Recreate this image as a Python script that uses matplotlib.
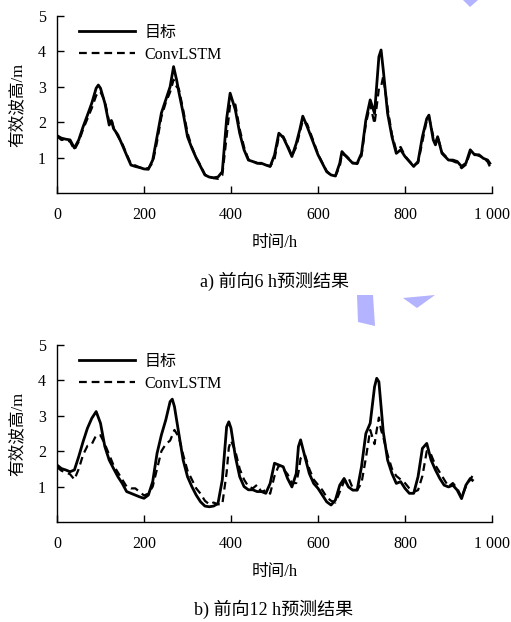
import matplotlib
matplotlib.use("Agg")
import matplotlib.pyplot as plt
from matplotlib.patches import Polygon

plt.rcParams['font.family'] = ['Liberation Serif', 'Noto Sans CJK SC']
plt.rcParams['axes.unicode_minus'] = False

# ---------------- data ----------------
t_a = [0, 10, 20, 30, 40, 50, 60, 70, 80, 90, 95, 100, 110, 120, 125, 130, 140, 150, 160, 170,
       180, 190, 200, 210, 220, 230, 240, 250, 260, 268, 275, 280, 290, 300, 310, 320, 330, 340,
       350, 360, 370, 380, 390, 398, 410, 420, 430, 440, 450, 460, 470, 480, 490, 500, 510, 520,
       530, 540, 550, 558, 565, 575, 590, 600, 610, 620, 630, 640, 650, 655, 665, 680, 690, 700,
       710, 720, 730, 740, 745, 750, 760, 770, 780, 790, 800, 810, 820, 830, 840, 850, 855, 865,
       870, 875, 885, 900, 910, 920, 930, 940, 950, 960, 970, 980, 990, 995]
target_a = [1.62, 1.55, 1.52, 1.50, 1.27, 1.50, 1.87, 2.20, 2.54, 2.96, 3.05, 2.96, 2.54, 1.92, 2.05,
            1.82, 1.64, 1.36, 1.07, 0.79, 0.75, 0.72, 0.68, 0.67, 0.93, 1.59, 2.26, 2.63, 3.00, 3.57,
            3.19, 2.86, 2.26, 1.59, 1.27, 0.99, 0.75, 0.51, 0.45, 0.43, 0.45, 0.60, 2.10, 2.82, 2.35,
            1.69, 1.22, 0.93, 0.89, 0.84, 0.84, 0.79, 0.75, 1.07, 1.69, 1.57, 1.31, 1.03, 1.40, 1.78,
            2.17, 1.88, 1.40, 1.08, 0.84, 0.60, 0.51, 0.48, 0.84, 1.17, 1.03, 0.84, 0.84, 1.12, 2.06,
            2.63, 2.25, 3.85, 4.04, 3.48, 2.25, 1.59, 1.12, 1.22, 1.03, 0.89, 0.75, 0.89, 1.59, 2.10,
            2.20, 1.50, 1.36, 1.59, 1.12, 0.93, 0.93, 0.89, 0.75, 0.84, 1.22, 1.08, 1.08, 0.98, 0.93,
            0.84]
conv_a = [1.60, 1.50, 1.50, 1.45, 1.22, 1.45, 1.80, 2.10, 2.40, 2.75, 2.85, 2.85, 2.60, 2.00, 2.10,
          1.85, 1.60, 1.40, 1.10, 0.82, 0.78, 0.72, 0.70, 0.70, 0.85, 1.45, 2.15, 2.55, 2.85, 3.20,
          3.00, 2.95, 2.35, 1.70, 1.30, 1.00, 0.78, 0.52, 0.45, 0.42, 0.40, 0.50, 1.60, 2.50, 2.50,
          1.80, 1.30, 0.95, 0.90, 0.85, 0.82, 0.80, 0.75, 0.95, 1.60, 1.60, 1.35, 1.05, 1.30, 1.70,
          2.05, 1.95, 1.45, 1.10, 0.85, 0.62, 0.50, 0.48, 0.75, 1.10, 1.05, 0.86, 0.82, 1.05, 1.95,
          2.50, 1.95, 2.95, 3.00, 3.30, 2.40, 1.65, 1.20, 1.30, 1.05, 0.90, 0.78, 0.85, 1.45, 2.05,
          2.15, 1.60, 1.40, 1.60, 1.15, 0.95, 0.90, 0.85, 0.70, 0.80, 1.15, 1.10, 1.05, 1.00, 0.88,
          0.75]

t_b = [0, 10, 20, 30, 40, 50, 60, 70, 80, 90, 100, 110, 120, 130, 140, 150, 160, 170, 180, 190,
       200, 210, 220, 230, 240, 250, 260, 265, 270, 280, 290, 300, 310, 320, 330, 340, 350, 360,
       370, 380, 390, 395, 400, 410, 420, 430, 440, 450, 460, 470, 480, 490, 500, 510, 520, 530,
       540, 550, 555, 560, 570, 580, 590, 600, 610, 620, 630, 640, 650, 660, 670, 680, 690, 700,
       710, 720, 730, 735, 740, 745, 750, 760, 770, 780, 790, 800, 810, 820, 830, 840, 850, 860,
       870, 880, 890, 900, 910, 920, 930, 940, 950, 955]
target_b = [1.61, 1.51, 1.47, 1.42, 1.47, 1.85, 2.27, 2.65, 2.93, 3.12, 2.79, 2.13, 1.75, 1.51, 1.28,
            1.09, 0.86, 0.81, 0.76, 0.71, 0.67, 0.76, 1.14, 1.94, 2.46, 2.88, 3.40, 3.47, 3.26, 2.50,
            1.75, 1.28, 1.00, 0.76, 0.57, 0.45, 0.43, 0.45, 0.52, 1.19, 2.69, 2.83, 2.65, 1.85, 1.28,
            1.00, 0.91, 0.91, 0.86, 0.86, 0.81, 1.09, 1.66, 1.61, 1.56, 1.23, 0.99, 1.37, 2.13, 2.32,
            1.84, 1.37, 1.09, 0.95, 0.76, 0.57, 0.48, 0.62, 1.04, 1.23, 0.99, 0.90, 0.90, 1.56, 2.50,
            2.79, 3.82, 4.06, 3.96, 3.26, 2.55, 1.75, 1.37, 1.09, 1.14, 0.95, 0.81, 0.81, 1.28, 2.08,
            2.22, 1.75, 1.47, 1.23, 1.04, 0.99, 1.04, 0.90, 0.66, 1.04, 1.23, 1.18]
conv_b = [1.55, 1.45, 1.40, 1.35, 1.20, 1.50, 1.90, 2.15, 2.20, 2.45, 2.45, 2.20, 1.90, 1.60, 1.40,
          1.20, 1.00, 0.95, 0.95, 0.85, 0.75, 0.80, 1.00, 1.50, 2.00, 2.20, 2.30, 2.45, 2.60, 2.40,
          1.90, 1.45, 1.20, 0.95, 0.80, 0.60, 0.50, 0.55, 0.50, 0.50, 1.40, 2.10, 2.30, 2.00, 1.50,
          1.20, 1.00, 0.95, 1.05, 0.85, 0.90, 0.80, 1.30, 1.60, 1.50, 1.35, 1.10, 1.10, 1.40, 1.80,
          1.90, 1.50, 1.20, 1.05, 0.90, 0.70, 0.60, 0.55, 0.85, 1.15, 1.25, 0.95, 0.90, 1.10, 1.80,
          2.60, 2.20, 2.60, 2.95, 2.60, 2.40, 1.90, 1.50, 1.30, 1.20, 1.10, 0.95, 0.85, 0.90, 1.30,
          2.00, 1.90, 1.60, 1.40, 1.20, 1.00, 1.10, 0.95, 0.70, 1.00, 1.20, 1.30]

x_ticks = [0, 200, 400, 600, 800, 1000]
x_ticklabels = ['0', '200', '400', '600', '800', '1 000']
y_ticks = [1, 2, 3, 4, 5]
series_names = ['目标', 'ConvLSTM']
captions = ['a) 前向6 h预测结果', 'b) 前向12 h预测结果']
xlabel = '时间/h'
ylabel = '有效波高/m'

# ---------------- figure ----------------
W, H = 511, 622
fig = plt.figure(figsize=(W / 100, H / 100), dpi=100)

def fx(px):
    return px / W

def fy(py):
    return 1 - py / H

panels = [
    (t_a, target_a, conv_a, 16, 193, 281),
    (t_b, target_b, conv_b, 345, 522, 609),
]

for i, (t, tg, cv, top_px, bot_px, cap_px) in enumerate(panels):
    ax = fig.add_axes([fx(57), fy(bot_px), fx(492) - fx(57), (bot_px - top_px) / H])
    ax.plot(t, tg, color='black', lw=2.0, solid_joinstyle='round', label=series_names[0])
    ax.plot(t, cv, color='black', lw=1.6, ls=(0, (3.5, 2.2)), label=series_names[1])
    ax.set_xlim(0, 1000)
    ax.set_ylim(0, 5)
    ax.set_xticks(x_ticks)
    ax.set_xticklabels(x_ticklabels)
    ax.set_yticks(y_ticks)
    ax.spines['top'].set_visible(False)
    ax.spines['right'].set_visible(False)
    for s in ('left', 'bottom'):
        ax.spines[s].set_linewidth(1.0)
    ax.tick_params(direction='in', length=5, width=1.0, labelsize=11.5)
    ax.tick_params(axis='x', pad=10)
    ax.tick_params(axis='y', pad=8)
    ax.set_xlabel(xlabel, fontsize=12, labelpad=9)
    ax.set_ylabel(ylabel, fontsize=12, labelpad=9)
    leg = ax.legend(loc='upper left', bbox_to_anchor=(0.035, 0.985), frameon=False,
                    fontsize=11.5, handlelength=3.5, handletextpad=0.6,
                    labelspacing=0.35, borderaxespad=0.0)
    fig.text(fx(274), fy(cap_px), captions[i], ha='center', va='center', fontsize=13)

# decorative watermark shapes
wm_color = '#b3b3ff'
shapes = [
    [(463, 0), (478, 0), (470, 7)],
    [(357, 295), (373, 295), (375, 326), (358, 322)],
    [(403, 298), (435, 295), (417, 308)],
]
for pts in shapes:
    poly = Polygon([(fx(x), fy(y)) for x, y in pts], closed=True, transform=fig.transFigure,
                   facecolor=wm_color, edgecolor='none')
    fig.patches.append(poly)

fig.savefig('out.png', dpi=100)
